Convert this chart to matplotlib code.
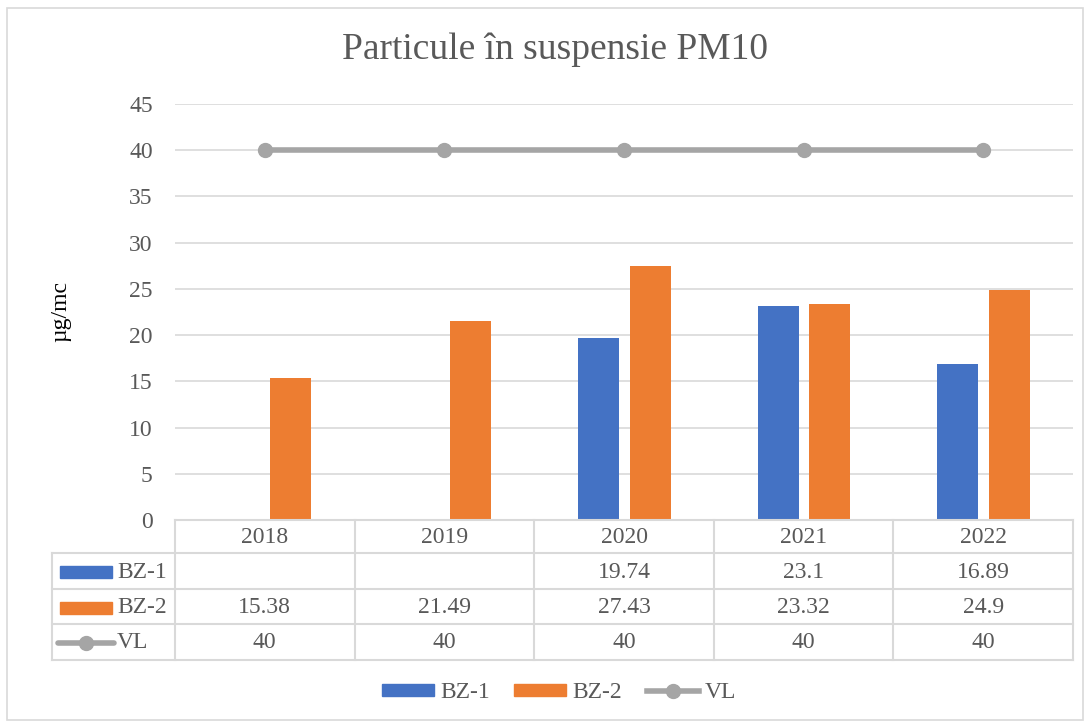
import matplotlib
matplotlib.use('Agg')
import matplotlib.pyplot as plt
import matplotlib.transforms as mtransforms
from matplotlib.patches import Rectangle
from matplotlib.lines import Line2D
import numpy as np

# data
years = ['2018', '2019', '2020', '2021', '2022']
bz1 = [np.nan, np.nan, 19.74, 23.1, 16.89]
bz2 = [15.38, 21.49, 27.43, 23.32, 24.9]
vl = [40, 40, 40, 40, 40]
bz1_txt = ['', '', '19.74', '23.1', '16.89']
bz2_txt = ['15.38', '21.49', '27.43', '23.32', '24.9']
vl_txt = ['40', '40', '40', '40', '40']

blue = '#4472C4'
orange = '#ED7D31'
gray = '#A5A5A5'
txt = '#595959'
grid = '#D9D9D9'
fs = 17

plt.rcParams['font.family'] = ['Liberation Serif', 'DejaVu Serif']

W, H = 1089, 727
fig = plt.figure(figsize=(W / 100, H / 100), dpi=100)

def fx(px):
    return px / W

def fy(py):
    return 1 - py / H

# outer chart border
fig.patches.append(Rectangle((fx(7), fy(720)), fx(1083) - fx(7), fy(8) - fy(720),
                             transform=fig.transFigure, fill=False,
                             edgecolor=grid, linewidth=1.2))

ax = fig.add_axes([fx(175), fy(520), fx(1073) - fx(175), fy(104) - fy(520)])
x = np.arange(len(years))
w = 0.228
ax.bar(x - 0.142, bz1, w, color=blue, zorder=3)
ax.bar(x + 0.145, bz2, w, color=orange, zorder=3)
ax.plot(x, vl, color=gray, linewidth=4, marker='o', markersize=10, zorder=4)

ax.set_xlim(-0.5, 4.5)
ax.set_ylim(0, 45)
ax.set_yticks(range(0, 50, 5))
ax.set_xticks([])
ax.tick_params(axis='y', length=0, labelsize=fs, labelcolor=txt, pad=16)
ax.grid(axis='y', color=grid, linewidth=1.2, zorder=0)
for s in ax.spines.values():
    s.set_visible(False)
ax.set_ylabel('µg/mc', fontsize=fs, color='black', labelpad=42)

fig.text(fx(555), fy(50), 'Particule în suspensie PM10', ha='center', va='center',
         fontsize=27, color=txt)

# data table
tr = mtransforms.blended_transform_factory(ax.transData, fig.transFigure)
rows_y = [520, 553, 589, 624, 660]
col_left = -0.5 + (52 - 175) / 179.6
lw = 1.5
# horizontal lines
fig.lines.append(Line2D([-0.5, 4.5], [fy(520)] * 2, transform=tr, color=grid, lw=lw))
for ry in rows_y[1:]:
    fig.lines.append(Line2D([col_left, 4.5], [fy(ry)] * 2, transform=tr, color=grid, lw=lw))
# vertical lines
for cx in np.arange(-0.5, 5.0, 1.0):
    fig.lines.append(Line2D([cx, cx], [fy(520), fy(660)], transform=tr, color=grid, lw=lw))
fig.lines.append(Line2D([col_left, col_left], [fy(553), fy(660)], transform=tr, color=grid, lw=lw))

def row_center(i):
    return fy((rows_y[i] + rows_y[i + 1]) / 2 + 1)

for i, yr in enumerate(years):
    fig.text(i, row_center(0), yr, transform=tr, ha='center', va='center',
             fontsize=fs, color=txt)
for r, vals in enumerate([bz1_txt, bz2_txt, vl_txt], start=1):
    for i, v in enumerate(vals):
        fig.text(i, row_center(r), v, transform=tr, ha='center', va='center',
                 fontsize=fs, color=txt)

# row labels with keys
for r, (lab, col) in enumerate([('BZ-1', blue), ('BZ-2', orange)], start=1):
    cy = row_center(r)
    fig.patches.append(Rectangle((fx(60), cy - 6 / H), fx(112) - fx(60), 12 / H,
                                 transform=fig.transFigure, color=col))
    fig.text(fx(117), cy, lab, ha='left', va='center', fontsize=fs, color=txt)
cy = row_center(3)
fig.lines.append(Line2D([fx(58), fx(114)], [cy, cy], transform=fig.transFigure,
                        color=gray, lw=4, solid_capstyle='round'))
fig.lines.append(Line2D([fx(86)], [cy], transform=fig.transFigure, color=gray,
                        marker='o', markersize=10))
fig.text(fx(117), cy, 'VL', ha='left', va='center', fontsize=fs, color=txt)

# legend
handles = [Rectangle((0, 0), 1, 1, color=blue),
           Rectangle((0, 0), 1, 1, color=orange),
           Line2D([], [], color=gray, lw=4, marker='o', markersize=10)]
fig.legend(handles, ['BZ-1', 'BZ-2', 'VL'], loc='center', bbox_to_anchor=(fx(559), fy(693)),
           ncol=3, frameon=False, fontsize=fs, labelcolor=txt, handlelength=2.2,
           handleheight=0.45, handletextpad=0.25, columnspacing=1.05)

fig.savefig('out.png', dpi=100)
